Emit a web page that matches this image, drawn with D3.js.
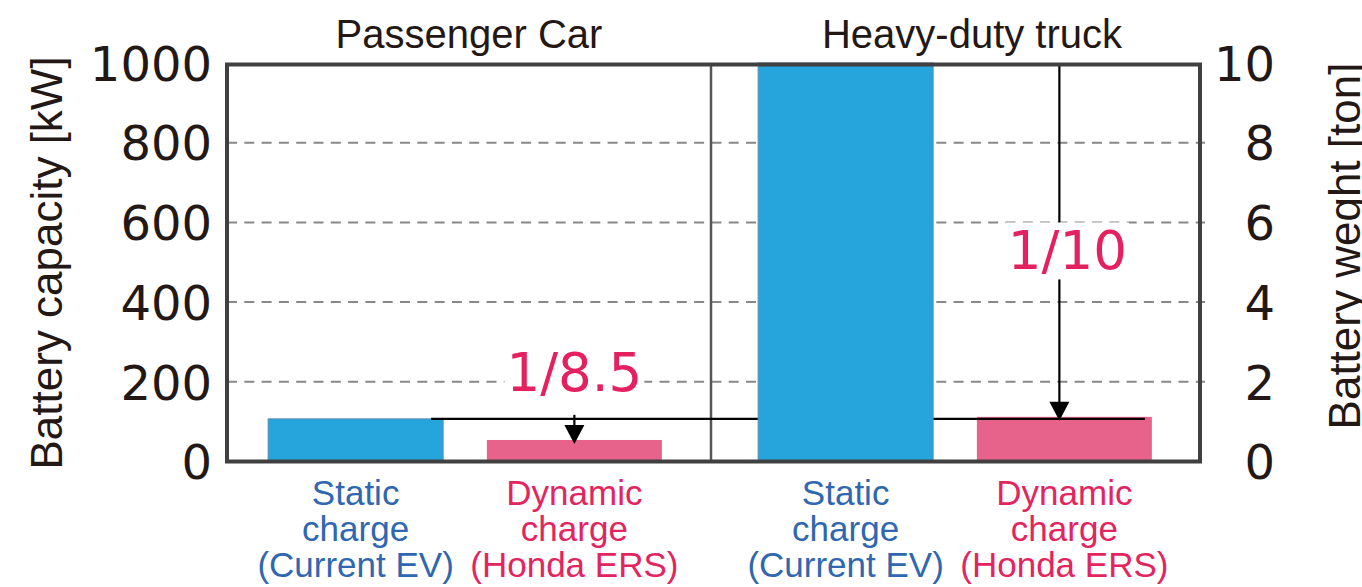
<!DOCTYPE html>
<html>
<head>
<meta charset="utf-8">
<script src="https://cdn.jsdelivr.net/npm/d3@7"></script>
<style>
    body { margin: 0; background: #fff; }
    .label { font-family: "Liberation Sans", Arial, sans-serif; fill: #231815; }
    .num { font-family: "DejaVu Sans", sans-serif; fill: #231815; }
</style>
</head>
<body>
<svg id="chart" width="1362" height="587"></svg>
<script>
const groups = ["Passenger Car", "Heavy-duty truck"];
const chargeTypes = ["Static", "Dynamic"];
const passengerCarKW = [107, 54];
const heavyTruckKW = [1000, 112];
const capacityTicks = [0, 200, 400, 600, 800, 1000];
const weightTicks = [0, 2, 4, 6, 8, 10];
const chargeLabels = [
    ["Static", "charge", "(Current EV)"],
    ["Dynamic", "charge", "(Honda ERS)"]
];
const ratioLabels = ["1/8.5", "1/10"];

const colors = {Static: "#26a5dc", Dynamic: "#e8638b"};
const textColors = {Static: "#2f67b1", Dynamic: "#e3255f"};
const ratioColor = "#e5205f";
const titleDx = [4, 17];

const plot = {left: 227, right: 1200, top: 63, bottom: 461.5, bandLeft: 220};

const svg = d3.select("#chart");

const bars = [];
groups.forEach(function(g, i) {
    const vals = i === 0 ? passengerCarKW : heavyTruckKW;
    chargeTypes.forEach(function(c, j) {
        bars.push({group: g, type: c, value: vals[j], labels: chargeLabels[j]});
    });
});

const xGroup = d3.scaleBand().domain(groups).range([plot.bandLeft, plot.right]).padding(0);
const xType = d3.scaleBand().domain(chargeTypes).range([0, xGroup.bandwidth()])
    .paddingInner(0.2).paddingOuter(0.22);
const y = d3.scaleLinear().domain([0, 1000]).range([plot.bottom, plot.top]);
const yRight = d3.scaleLinear().domain([0, 10]).range([plot.bottom, plot.top]);

const barX = d => xGroup(d.group) + xType(d.type);
const barCenter = d => barX(d) + xType.bandwidth() / 2;

// gridlines
svg.append("g")
    .selectAll("line")
    .data(capacityTicks.filter(t => t > 0 && t < 1000))
    .enter().append("line")
    .attr("x1", plot.left)
    .attr("x2", plot.right + 5)
    .attr("y1", d => y(d))
    .attr("y2", d => y(d))
    .attr("stroke", "#888")
    .attr("stroke-width", 2)
    .attr("stroke-dasharray", "10 7.3");

// divider between groups
svg.append("line")
    .attr("x1", xGroup(groups[1]) + 1)
    .attr("x2", xGroup(groups[1]) + 1)
    .attr("y1", plot.top)
    .attr("y2", plot.bottom)
    .attr("stroke", "#555")
    .attr("stroke-width", 2.5);

const barG = svg.append("g");
function drawBars(data) {
    barG.selectAll(null)
        .data(data)
        .enter().append("rect")
        .attr("x", barX)
        .attr("y", d => y(d.value))
        .attr("width", xType.bandwidth())
        .attr("height", d => y(0) - y(d.value))
        .attr("fill", d => colors[d.type])
        .attr("stroke", d => d.type === "Static" ? "#5a8db3" : "none")
        .attr("stroke-width", 1);
}

const refBar = bars[0];
const truckStatic = bars[2];
drawBars(bars.filter(d => d !== truckStatic));

// reference line at current passenger car capacity
svg.append("line")
    .attr("x1", barX(refBar) + xType.bandwidth() - 12)
    .attr("x2", barX(bars[3]) + xType.bandwidth() - 7)
    .attr("y1", y(refBar.value))
    .attr("y2", y(refBar.value))
    .attr("stroke", "#000")
    .attr("stroke-width", 2.2);

svg.append("rect")
    .attr("x", barX(truckStatic))
    .attr("y", y(truckStatic.value))
    .attr("width", xType.bandwidth())
    .attr("height", y(0) - y(truckStatic.value))
    .attr("fill", colors.Static)
    .attr("stroke", "#5a8db3")
    .attr("stroke-width", 1);

function arrow(x, y0, y1) {
    const g = svg.append("g");
    g.append("line")
        .attr("x1", x).attr("x2", x)
        .attr("y1", y0).attr("y2", y1 - 16)
        .attr("stroke", "#000").attr("stroke-width", 2.2);
    g.append("path")
        .attr("d", `M${x - 10},${y1 - 19} L${x + 10},${y1 - 19} L${x},${y1} Z`)
        .attr("fill", "#000");
}

// arrows
arrow(barCenter(bars[1]), y(refBar.value + 10), y(bars[1].value - 10));
arrow(barCenter(bars[3]) - 5, y(1000), y(refBar.value - 5));

function ratioText(txt, x, v) {
    const g = svg.append("g");
    const t = g.append("text")
        .attr("class", "num")
        .attr("x", x)
        .attr("y", y(v))
        .attr("text-anchor", "middle")
        .style("font-size", "53px")
        .style("fill", ratioColor)
        .text(txt);
    const b = t.node().getBBox();
    g.insert("rect", "text")
        .attr("x", b.x - 2).attr("y", b.y + 2)
        .attr("width", b.width + 4).attr("height", b.height - 4)
        .attr("fill", "#fff");
}
ratioText(ratioLabels[0], barCenter(bars[1]), 176);
ratioText(ratioLabels[1], barCenter(bars[3]) + 3, 482);

// frame
svg.append("rect")
    .attr("x", plot.left)
    .attr("y", plot.top + 1.5)
    .attr("width", plot.right - plot.left)
    .attr("height", plot.bottom - plot.top - 1.5)
    .attr("fill", "none")
    .attr("stroke", "#404040")
    .attr("stroke-width", 4);

// axes
const leftAxis = svg.append("g")
    .attr("transform", `translate(${plot.left},0)`)
    .call(d3.axisLeft(y).tickValues(capacityTicks).tickFormat(d3.format("d"))
        .tickSize(0).tickPadding(15));
leftAxis.select(".domain").remove();
leftAxis.selectAll("text")
    .attr("class", "num")
    .style("font-size", "48px")
    .attr("dy", "0.36em");

const rightAxis = svg.append("g")
    .attr("transform", `translate(${plot.right},0)`)
    .call(d3.axisRight(yRight).tickValues(weightTicks).tickFormat(d3.format("d"))
        .tickSize(0).tickPadding(0));
rightAxis.select(".domain").remove();
rightAxis.selectAll("text")
    .attr("class", "num")
    .attr("x", 75)
    .attr("text-anchor", "end")
    .style("font-size", "48px")
    .attr("dy", "0.36em");

// group titles
svg.append("g")
    .selectAll("text")
    .data(groups)
    .enter().append("text")
    .attr("class", "label")
    .attr("x", (d, i) => xGroup(d) + xGroup.bandwidth() / 2 + titleDx[i])
    .attr("y", 48)
    .attr("text-anchor", "middle")
    .style("font-size", "40px")
    .text(d => d);

// category labels
const catG = svg.append("g")
    .selectAll("text")
    .data(bars)
    .enter().append("text")
    .attr("class", "label")
    .attr("text-anchor", "middle")
    .style("font-size", "35px")
    .style("fill", d => textColors[d.type]);
catG.selectAll("tspan")
    .data(d => d.labels.map(l => ({text: l, x: barCenter(d)})))
    .enter().append("tspan")
    .attr("x", d => d.x)
    .attr("y", (d, i) => 505 + i * 36)
    .text(d => d.text);

// axis titles
svg.append("text")
    .attr("class", "label")
    .attr("transform", "translate(62,263) rotate(-90)")
    .attr("text-anchor", "middle")
    .style("font-size", "44px")
    .text("Battery capacity [kW]");

svg.append("text")
    .attr("class", "label")
    .attr("transform", "translate(1360,246) rotate(-90)")
    .attr("text-anchor", "middle")
    .style("font-size", "44px")
    .text("Battery weght [ton]");
</script>
</body>
</html>
